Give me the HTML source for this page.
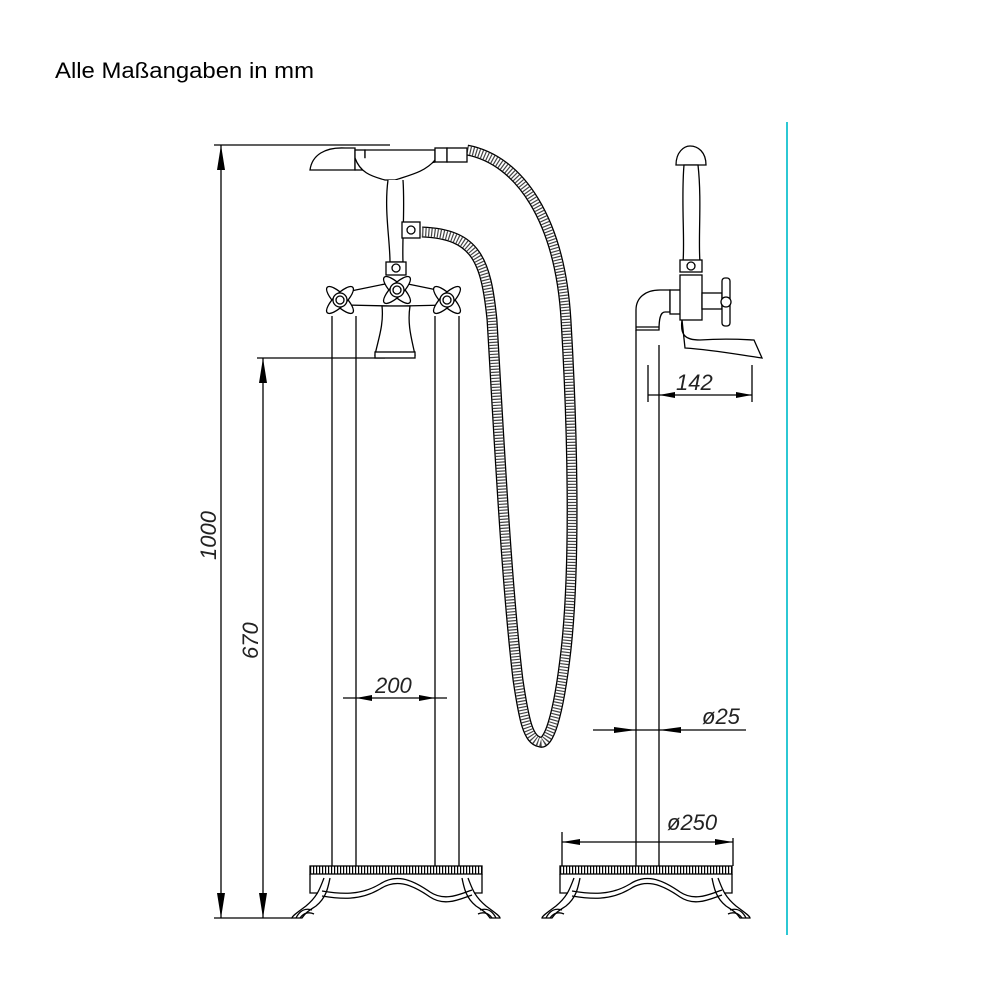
<!DOCTYPE html>
<html><head><meta charset="utf-8"><style>
html,body{margin:0;padding:0;background:#fff}
svg{display:block}
text{font-family:"Liberation Sans",sans-serif}
.d{font-style:italic;font-size:22px;fill:#222}
</style></head><body>
<svg width="1000" height="1000" viewBox="0 0 1000 1000" xmlns="http://www.w3.org/2000/svg">
<defs>
<pattern id="hp" width="3" height="8" patternUnits="userSpaceOnUse">
<rect width="3" height="8" fill="#fff"/><rect x="0" y="0" width="1.2" height="8" fill="#000"/>
</pattern>
<g id="base" fill="none" stroke="#000" stroke-width="1.3">
<rect x="0" y="0" width="172" height="8" fill="url(#hp)"/>
<path d="M0 8 V27 H8 M172 8 V27 H164"/>
<path d="M12 25 C30 28 50 30 70 18 C85 8 100 12 120 26 C135 36 150 28 162 24"/>
<path d="M12 30 C30 33 50 35 70 23 C85 13 100 17 120 31 C135 41 150 33 162 29"/>
<path d="M14 12 C10 22 8 30 -4 40 C-12 46 -18 50 -18 52 H-8 C-4 46 0 44 6 40 C16 32 18 22 20 12"/>
<path d="M-14 52 C-10 44 -4 42 2 44 M-10 52 C-6 46 0 46 4 48"/>
<path d="M158 12 C162 22 164 30 176 40 C184 46 190 50 190 52 H180 C176 46 172 44 166 40 C156 32 154 22 152 12"/>
<path d="M186 52 C182 44 176 42 170 44 M182 52 C178 46 172 46 168 48"/>
</g>
</defs>
<text x="55" y="78" font-size="22" fill="#000" textLength="259" lengthAdjust="spacingAndGlyphs">Alle Maßangaben in mm</text>
<line x1="787" y1="122" x2="787" y2="935" stroke="#2cc8d4" stroke-width="2"/>

<g stroke="#000" stroke-width="1.3" fill="none">
<line x1="221" y1="145" x2="221" y2="918"/>
<line x1="214" y1="145" x2="390" y2="145"/>
<line x1="214" y1="918" x2="292" y2="918"/>
<line x1="263" y1="358" x2="263" y2="918"/>
<line x1="257" y1="358" x2="385" y2="358"/>
<line x1="332" y1="316" x2="332" y2="866"/>
<line x1="356" y1="316" x2="356" y2="866"/>
<line x1="435" y1="316" x2="435" y2="866"/>
<line x1="459" y1="316" x2="459" y2="866"/>
<line x1="343" y1="698" x2="447" y2="698"/>
<line x1="636" y1="330" x2="636" y2="866"/>
<line x1="659" y1="345" x2="659" y2="866"/>
<line x1="648" y1="365" x2="648" y2="402"/>
<line x1="752" y1="365" x2="752" y2="402"/>
<line x1="648" y1="395" x2="752" y2="395"/>
<line x1="593" y1="730" x2="746" y2="730"/>
<line x1="562" y1="842" x2="733" y2="842"/>
<line x1="562" y1="832" x2="562" y2="866"/>
<line x1="733" y1="838" x2="733" y2="866"/>
</g>
<g fill="#000">
<polygon points="221,145 217,170 225,170"/><polygon points="221,918 217,893 225,893"/>
<polygon points="263,358 259,383 267,383"/><polygon points="263,918 259,893 267,893"/>
<polygon points="356,698 372,695 372,701"/><polygon points="435,698 419,695 419,701"/>
<polygon points="659,395 675,392 675,398"/><polygon points="752,395 736,392 736,398"/>
<polygon points="636,730 614,727 614,733"/><polygon points="659,730 681,727 681,733"/>
<polygon points="562,842 580,839 580,845"/><polygon points="733,842 715,839 715,845"/>
</g>
<text class="d" transform="translate(216,560) rotate(-90)">1000</text>
<text class="d" transform="translate(258,659) rotate(-90)">670</text>
<text class="d" x="375" y="693">200</text>
<text class="d" x="676" y="390">142</text>
<text class="d" x="702" y="724">ø25</text>
<text class="d" x="667" y="830">ø250</text>

<g fill="none">
<path d="M467 150 C520 160 560 220 566 320 C572 420 576 560 566 650 C558 720 548 745 540 742 C528 740 524 720 518 680 C506 580 498 420 492 320 C486 260 476 234 422 232" stroke="#000" stroke-width="11"/>
<path d="M467 150 C520 160 560 220 566 320 C572 420 576 560 566 650 C558 720 548 745 540 742 C528 740 524 720 518 680 C506 580 498 420 492 320 C486 260 476 234 422 232" stroke="#fff" stroke-width="8.4"/>
<path d="M467 150 C520 160 560 220 566 320 C572 420 576 560 566 650 C558 720 548 745 540 742 C528 740 524 720 518 680 C506 580 498 420 492 320 C486 260 476 234 422 232" stroke="#444" stroke-width="8.4" stroke-dasharray="1.2 1.8"/>
</g>

<g fill="#fff" stroke="#000" stroke-width="1.3">
<path d="M310 170 C312 155 325 147 345 148 H355 V170 Z"/>
<rect x="355" y="150" width="10" height="20"/>
<path d="M365 150 H435 V162 C420 166 400 168 365 162 Z"/>
<path d="M355 158 C360 172 370 176 385 180 L395 180 C410 175 425 172 435 160"/>
<rect x="435" y="148" width="12" height="14"/><rect x="447" y="148" width="20" height="14"/>
<path d="M388 180 C384 210 390 240 390 262 H403 C402 240 405 210 403 180"/>
<rect x="402" y="222" width="18" height="16"/><circle cx="411" cy="230" r="4"/>
<rect x="386" y="262" width="20" height="13"/><circle cx="396" cy="268" r="4"/>
<path d="M346 292 L390 283 L403 283 L447 292 L447 305 L403 306 L390 306 L346 305Z"/>
<path d="M382 306 C384 325 378 340 375 355 H415 C412 340 407 325 410 306Z"/>
<rect x="375" y="352" width="40" height="6"/>
<g id="cross">
<ellipse cx="340" cy="300" rx="18" ry="6" transform="rotate(45 340 300)"/>
<ellipse cx="340" cy="300" rx="18" ry="6" transform="rotate(-45 340 300)"/>
<circle cx="340" cy="300" r="7"/><circle cx="340" cy="300" r="4"/>
</g>
<use href="#cross" transform="translate(107 0)"/>
<use href="#cross" transform="translate(57 -10)"/>
</g>

<g fill="#fff" stroke="#000" stroke-width="1.3">
<path d="M676 165 C676 152 684 146 690 146 C698 146 706 152 706 165 Z"/>
<path d="M684 165 C681 200 685 240 683 262 H700 C698 240 702 200 698 165Z"/>
<rect x="680" y="260" width="22" height="12"/><circle cx="691" cy="266" r="4"/>
<path d="M636 330 V310 C636 298 645 290 660 290 H670 V312 H665 C660 312 659 320 659 330 Z"/>
<line x1="636" y1="327" x2="659" y2="327"/>
<rect x="670" y="290" width="12" height="24"/>
<rect x="680" y="275" width="22" height="45"/>
<rect x="702" y="293" width="20" height="16"/>
<rect x="722" y="278" width="8" height="48" rx="3"/>
<circle cx="726" cy="302" r="5"/>
<path d="M682 320 C680 335 685 340 700 340 C730 338 750 340 754 340 L762 358 C740 355 715 350 685 348 Z"/>
</g>

<use href="#base" transform="translate(310 866)"/>
<use href="#base" transform="translate(560 866)"/>
</svg>
</body></html>
